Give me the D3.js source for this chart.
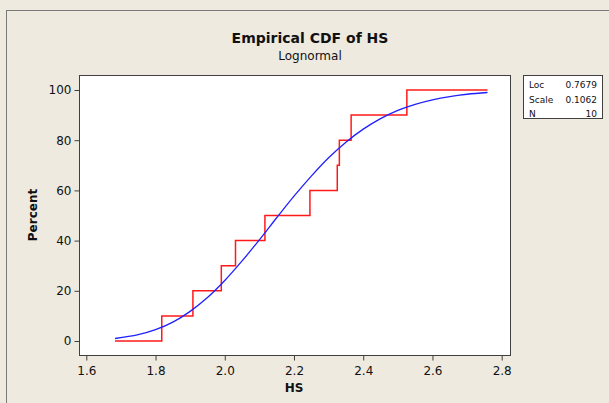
<!DOCTYPE html>
<html>
<head>
<meta charset="utf-8">
<script src="https://cdn.jsdelivr.net/npm/d3@7"></script>
<style>
  html, body { margin: 0; padding: 0; background: #eeeae0; }
  svg { display: block; }
</style>
</head>
<body>
<svg id="chart"></svg>
<script>
const hsValues = [1.818, 1.908, 1.990, 2.031, 2.116, 2.246, 2.325, 2.331, 2.365, 2.526];
const stepRange = [1.683, 2.759];

// fitted lognormal CDF
const fitX = [1.683, 1.75, 1.8, 1.85, 1.9, 1.95, 2.0, 2.05, 2.1, 2.15, 2.2, 2.25, 2.3, 2.35, 2.4, 2.45, 2.5, 2.55, 2.6, 2.65, 2.7, 2.759];
const fitPct = [1.0, 2.5, 4.5, 7.5, 11.8, 17.3, 24.1, 31.9, 40.3, 49.1, 57.7, 65.7, 73.0, 79.2, 84.4, 88.6, 91.9, 94.3, 96.1, 97.4, 98.3, 99.0];

const xTicks = [1.6, 1.8, 2.0, 2.2, 2.4, 2.6, 2.8];
const yTicks = [0, 20, 40, 60, 80, 100];
const legendRows = [["Loc", "0.7679"], ["Scale", "0.1062"], ["N", "10"]];

const W = 609, H = 403;
const font = "'DejaVu Sans', Verdana, sans-serif";

const svg = d3.select('#chart').attr('width', W).attr('height', H);

// outer frame (top + left only visible)
svg.append('rect').attr('width', W).attr('height', H).attr('fill', '#eeeae0');
svg.append('line').attr('x1', 6).attr('x2', W).attr('y1', 10.5).attr('y2', 10.5)
  .attr('stroke', '#7a7a7a').attr('stroke-width', 1);
svg.append('line').attr('x1', 6.5).attr('x2', 6.5).attr('y1', 10).attr('y2', H)
  .attr('stroke', '#7a7a7a').attr('stroke-width', 1);

// plot area
const plot = { left: 79, top: 75, right: 510, bottom: 355 };
const x = d3.scaleLinear().domain([1.6, 2.8]).range([86.3, 501.7]);
const y = d3.scaleLinear().domain([0, 100]).range([341, 90]);

svg.append('rect')
  .attr('x', plot.left + 0.5).attr('y', plot.top + 0.5)
  .attr('width', plot.right - plot.left).attr('height', plot.bottom - plot.top)
  .attr('fill', '#fff').attr('stroke', '#404040').attr('stroke-width', 1);

// axes
const xAxis = svg.append('g')
  .attr('transform', `translate(0,${plot.bottom + 0.5})`)
  .call(d3.axisBottom(x).tickValues(xTicks).tickFormat(d3.format('.1f')).tickSize(5).tickSizeOuter(0));
const yAxis = svg.append('g')
  .attr('transform', `translate(${plot.left + 0.5},0)`)
  .call(d3.axisLeft(y).tickValues(yTicks).tickSize(5).tickSizeOuter(0));

[xAxis, yAxis].forEach(g => {
  g.select('.domain').remove();
  g.selectAll('line').attr('stroke', '#404040');
  g.selectAll('text').attr('fill', '#111').style('font-family', font).style('font-size', '12px');
});
xAxis.selectAll('text').attr('dy', '0.95em');
yAxis.selectAll('text').attr('x', -8);

// empirical step function
const stepPts = [[stepRange[0], 0]]
  .concat(hsValues.map((v, i) => [v, (i + 1) * 10]))
  .concat([[stepRange[1], 100]]);

svg.append('path')
  .datum(stepPts)
  .attr('fill', 'none')
  .attr('stroke', '#ff1a1a')
  .attr('stroke-width', 1.5)
  .attr('d', d3.line().x(d => x(d[0])).y(d => y(d[1])).curve(d3.curveStepAfter));

// fitted curve
svg.append('path')
  .datum(fitX.map((v, i) => [v, fitPct[i]]))
  .attr('fill', 'none')
  .attr('stroke', '#2020ff')
  .attr('stroke-width', 1.3)
  .attr('d', d3.line().x(d => x(d[0])).y(d => y(d[1])).curve(d3.curveMonotoneX));

// titles
svg.append('text').attr('x', 310).attr('y', 43).attr('text-anchor', 'middle')
  .style('font-family', font).style('font-size', '14px').style('font-weight', 'bold')
  .attr('fill', '#111').text('Empirical CDF of HS');
svg.append('text').attr('x', 310).attr('y', 60).attr('text-anchor', 'middle')
  .style('font-family', font).style('font-size', '12px')
  .attr('fill', '#111').text('Lognormal');

svg.append('text').attr('x', 294).attr('y', 392).attr('text-anchor', 'middle')
  .style('font-family', font).style('font-size', '12px').style('font-weight', 'bold')
  .attr('fill', '#111').text('HS');
svg.append('text')
  .attr('transform', 'translate(37,215) rotate(-90)')
  .attr('text-anchor', 'middle')
  .style('font-family', font).style('font-size', '12px').style('font-weight', 'bold')
  .attr('fill', '#111').text('Percent');

// legend box
const lg = svg.append('g');
lg.append('rect').attr('x', 523.5).attr('y', 75.5).attr('width', 79).attr('height', 43)
  .attr('fill', '#fff').attr('stroke', '#404040').attr('stroke-width', 1);
legendRows.forEach((r, i) => {
  const yy = 88 + i * 14.5;
  lg.append('text').attr('x', 529).attr('y', yy)
    .style('font-family', font).style('font-size', '9px').attr('fill', '#111').text(r[0]);
  lg.append('text').attr('x', 597).attr('y', yy).attr('text-anchor', 'end')
    .style('font-family', font).style('font-size', '9px').attr('fill', '#111').text(r[1]);
});
</script>
</body>
</html>
